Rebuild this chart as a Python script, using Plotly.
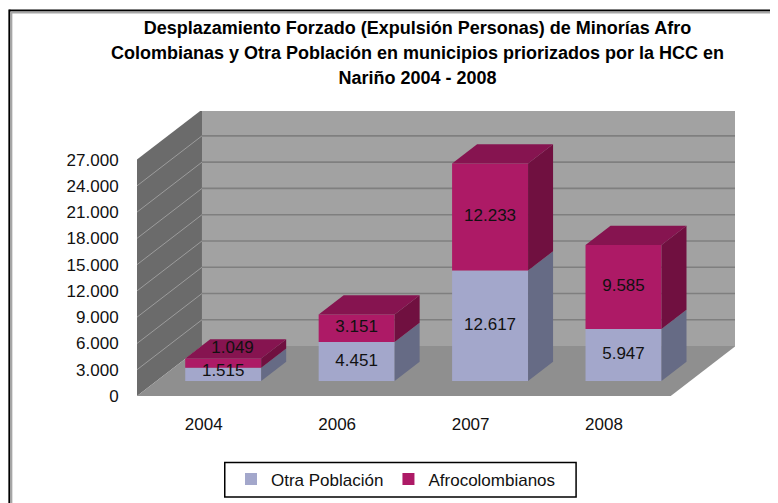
import plotly.graph_objects as go

# ---- data ----
years = ["2004", "2006", "2007", "2008"]
otra = [1515, 4451, 12617, 5947]
afro = [1049, 3151, 12233, 9585]
y_ticks = [0, 3000, 6000, 9000, 12000, 15000, 18000, 21000, 24000, 27000]
title_lines = ["Desplazamiento Forzado (Expulsión Personas) de Minorías Afro",
               "Colombianas y Otra Población en municipios priorizados por la HCC en",
               "Nariño 2004 - 2008"]
series_names = ["Otra Población", "Afrocolombianos"]

# ---- oblique projection settings ----
OFF = 8                 # page margin in front of the figure
W, H = 778 - OFF, 503 - OFF
PX_CAT = 133.5
PX_VAL = 236.7 / 27000
DX = 65 / PX_CAT        # full floor depth in category units
DY = 50 / PX_VAL        # full floor depth in value units
D0, D1 = 0.30, 0.685    # bars occupy this depth range
BAR_W = 76 / PX_CAT
ML, MT = 136.7 - OFF, 110.7 - OFF
MR, MB = 43, 107
PW, PH = W - ML - MR, H - MT - MB
xmin = -0.5
xmax = xmin + PW / PX_CAT
ymax = PH / PX_VAL
cats = list(range(len(years)))
FLOOR_R = xmin + len(years)


def proj(x, v, d):
    return x + d * DX, v + d * DY


def poly_path(pts):
    return "M " + " L ".join(f"{a},{b}" for a, b in pts) + " Z"


def xp(px):
    return (px - OFF - ML) / PW


def yp(py):
    return 1 - (py - OFF - MT) / PH


C_BACK, C_LEFT, C_FLOOR = "#A2A2A2", "#6B6B6B", "#8F8F8F"
C_GRID_B, C_GRID_L = "#7F7F7F", "#9C9C9C"
C_OTRA, C_OTRA_S = "#A3A7CB", "#666B85"
C_AFRO, C_AFRO_S, C_AFRO_T = "#AD1A66", "#701040", "#861450"

shapes = []
top = y_ticks[-1]
# walls and floor
shapes.append(dict(type="path", layer="below", line_width=0, fillcolor=C_BACK, xref="x", yref="y",
                   path=poly_path([proj(xmin, 0, 1), proj(FLOOR_R, 0, 1), proj(FLOOR_R, top, 1), proj(xmin, top, 1)])))
shapes.append(dict(type="path", layer="below", line_width=0, fillcolor=C_LEFT, xref="x", yref="y",
                   path=poly_path([proj(xmin, 0, 0), proj(xmin, 0, 1), proj(xmin, top, 1), proj(xmin, top, 0)])))
shapes.append(dict(type="path", layer="below", line_width=0, fillcolor=C_FLOOR, xref="x", yref="y",
                   path=poly_path([proj(xmin, 0, 0), proj(FLOOR_R, 0, 0), proj(FLOOR_R, 0, 1), proj(xmin, 0, 1)])))
for t in y_ticks[1:]:
    a, b, c = proj(xmin, t, 0), proj(xmin, t, 1), proj(FLOOR_R, t, 1)
    if t < top:
        shapes.append(dict(type="line", layer="below", xref="x", yref="y", x0=a[0], y0=a[1], x1=b[0], y1=b[1],
                           line=dict(color=C_GRID_L, width=1)))
    shapes.append(dict(type="line", layer="below", xref="x", yref="y", x0=b[0], y0=b[1], x1=c[0], y1=c[1],
                       line=dict(color=C_GRID_B, width=1.6)))

# frame around the chart object (top and left only)
for pos, col in ((10, "#000000"), (12, "#A6A6A6")):
    shapes.append(dict(type="line", xref="paper", yref="paper", x0=xp(pos - 1), x1=xp(800), y0=yp(pos), y1=yp(pos),
                       line=dict(color=col, width=2)))
for pos, col in ((9, "#000000"), (11, "#A6A6A6")):
    shapes.append(dict(type="line", xref="paper", yref="paper", x0=xp(pos), x1=xp(pos), y0=yp(pos), y1=yp(520),
                       line=dict(color=col, width=2)))
# legend box
shapes.append(dict(type="rect", xref="paper", yref="paper", x0=xp(224.5), x1=xp(576), y0=yp(497), y1=yp(462.5),
                   line=dict(color="#000000", width=1.5)))

fig = go.Figure()

# side and top faces of the bars
for i in cats:
    x0 = i - BAR_W / 2
    x1 = i + BAR_W / 2
    levels = [(0, otra[i], C_OTRA_S), (otra[i], otra[i] + afro[i], C_AFRO_S)]
    for lo, hi, col in levels:
        pts = [proj(x1, lo, D0), proj(x1, lo, D1), proj(x1, hi, D1), proj(x1, hi, D0)]
        fig.add_trace(go.Scatter(x=[p[0] for p in pts], y=[p[1] for p in pts], fill="toself", fillcolor=col,
                                 mode="lines", line=dict(width=0, color=col), showlegend=False, hoverinfo="skip"))
    hi = otra[i] + afro[i]
    pts = [proj(x0, hi, D0), proj(x1, hi, D0), proj(x1, hi, D1), proj(x0, hi, D1)]
    fig.add_trace(go.Scatter(x=[p[0] for p in pts], y=[p[1] for p in pts], fill="toself", fillcolor=C_AFRO_T,
                             mode="lines", line=dict(width=0, color=C_AFRO_T), showlegend=False, hoverinfo="skip"))

# front faces
fx = [proj(i, 0, D0)[0] for i in cats]
fy0 = proj(0, 0, D0)[1]
fig.add_trace(go.Bar(x=fx, y=otra, base=[fy0] * len(cats), width=BAR_W, name=series_names[0],
                     marker=dict(color=C_OTRA, line_width=0)))
fig.add_trace(go.Bar(x=fx, y=afro, base=[fy0 + v for v in otra], width=BAR_W, name=series_names[1],
                     marker=dict(color=C_AFRO, line_width=0)))


def fmt(v):
    return f"{v:,}".replace(",", ".")


# value labels, the smallest one is lifted onto the top of its bar
lift = [1650, 0, 0, 0]
fig.add_trace(go.Scatter(x=fx, y=[fy0 + v / 2 + 300 * (v < 2000) for v in otra], mode="text",
                         text=[fmt(v) for v in otra], textposition="middle center",
                         textfont=dict(size=17, color="#111111"), showlegend=False, hoverinfo="skip"))
fig.add_trace(go.Scatter(x=[x + 0.07 * (l > 0) for x, l in zip(fx, lift)],
                         y=[fy0 + o + a / 2 + l for o, a, l in zip(otra, afro, lift)], mode="text",
                         text=[fmt(v) for v in afro], textposition="middle center",
                         textfont=dict(size=17, color="#111111"), showlegend=False, hoverinfo="skip"))

title = "<b>" + "<br>".join(f'<span style="font-size:18px">{t}</span>' for t in title_lines) + "</b>"

fig.update_layout(
    width=W, height=H,
    autosize=False,
    paper_bgcolor="white", plot_bgcolor="rgba(0,0,0,0)",
    margin=dict(l=ML, r=MR, t=MT, b=MB, pad=0),
    separators=",.",
    barmode="overlay",
    shapes=shapes,
    font=dict(family="Liberation Sans", color="#111111", size=17),
    title=dict(text=title, x=(417.5 - OFF) / W, xanchor="center", y=1 - (34 - OFF) / H, yanchor="top",
               font=dict(family="Liberation Sans", size=19.2, color="#000000")),
    xaxis=dict(range=[xmin, xmax], tickmode="array", tickvals=cats, ticktext=years, showgrid=False,
               zeroline=False, showline=False, ticks="outside", ticklen=13, tickcolor="rgba(0,0,0,0)",
               tickfont=dict(size=17)),
    yaxis=dict(range=[0, ymax], tickmode="array", tickvals=y_ticks, tickformat=",d", showgrid=False,
               zeroline=False, showline=False, ticks="outside", ticklen=14, tickcolor="rgba(0,0,0,0)",
               tickfont=dict(size=17)),
    legend=dict(orientation="h", xref="container", yref="container", x=(231 - OFF) / W, xanchor="left",
                y=1 - (479.5 - OFF) / H, yanchor="middle", borderwidth=0, bgcolor="rgba(0,0,0,0)",
                font=dict(size=17), traceorder="normal"),
)

fig.write_html("out.html")
